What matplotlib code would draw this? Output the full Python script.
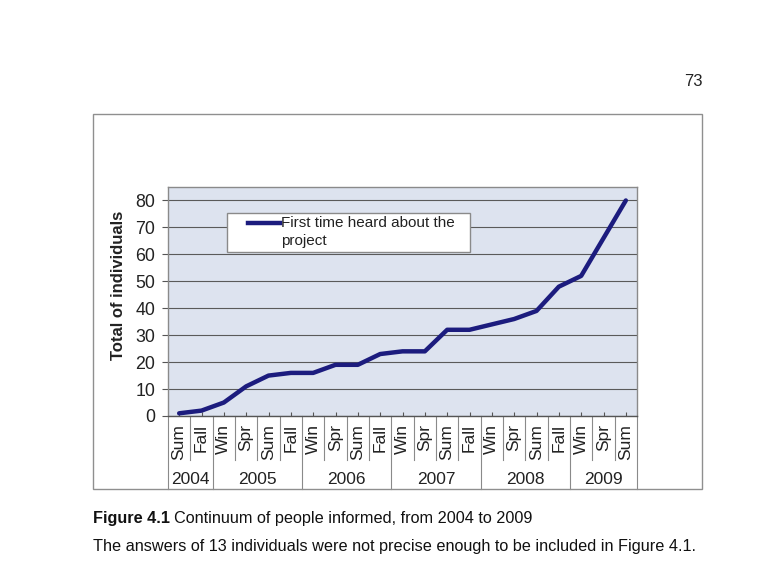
import numpy as np
import matplotlib
matplotlib.use("Agg")
import matplotlib.pyplot as plt
from matplotlib.patches import Rectangle

plt.rcParams['font.family'] = ['Liberation Sans', 'DejaVu Sans']

# data
seasons = ['Sum', 'Fall',
           'Win', 'Spr', 'Sum', 'Fall',
           'Win', 'Spr', 'Sum', 'Fall',
           'Win', 'Spr', 'Sum', 'Fall',
           'Win', 'Spr', 'Sum', 'Fall',
           'Win', 'Spr', 'Sum']
years = ['2004', '2005', '2006', '2007', '2008', '2009']
per_year = [2, 4, 4, 4, 4, 3]
heard = [1, 2, 5, 11, 15, 16, 16, 19, 19, 23, 24, 24, 32, 32, 34, 36, 39, 48, 52, 66, 80]
series_name = "First time heard about the\nproject"

W, H = 771, 574
fig = plt.figure(figsize=(W / 100, H / 100), dpi=100)
fig.patch.set_facecolor('white')

def fx(px):
    return px / W

def fy(py):
    return 1 - py / H

# outer chart frame
fig.add_artist(Rectangle((fx(93), fy(489)), fx(702) - fx(93), fy(114) - fy(489),
                         transform=fig.transFigure, fill=False, edgecolor='#8f8f8f', lw=1))

ax = fig.add_axes([fx(168), fy(416), fx(637) - fx(168), fy(187) - fy(416)])
ax.set_facecolor('#dde3ef')

x = np.arange(len(heard)) + 0.5
ax.plot(x, heard, color='#1c1c7e', lw=3.2, solid_joinstyle='round', solid_capstyle='round', zorder=3)

ax.set_xlim(0, len(heard))
ax.set_ylim(0, 85)
ax.set_yticks(range(0, 90, 10))
ax.yaxis.grid(True, color='#5a5a5a', lw=0.8)
ax.set_axisbelow(True)
ax.tick_params(axis='y', direction='out', length=4, pad=5, labelsize=12.8, color='#555', labelcolor='#222')
ax.set_xticks(x)
ax.tick_params(axis='x', direction='in', length=3, labelbottom=False, color='#555')
for s in ax.spines.values():
    s.set_color('#8a8a8a')
    s.set_linewidth(1)
ax.spines['bottom'].set_color('#555')

fig.text(fx(118), fy(285), 'Total of individuals', rotation=90, ha='center', va='center',
         fontsize=12, fontweight='bold', color='#222')

# two-level category labels
tr = ax.get_xaxis_transform()
row_top = -8 / 229
row_bot = -44 / 229
year_y = -64 / 229
frame_bot = -73 / 229
for xi, s in zip(x, seasons):
    ax.text(xi, row_top, s, transform=tr, rotation=90, ha='center', va='top', fontsize=12.5, color='#222')
bounds = np.cumsum([0] + per_year)
for b in range(1, len(heard)):
    if b not in bounds:
        ax.plot([b, b], [-1 / 229, row_bot], transform=tr, color='#8a8a8a', lw=0.8, clip_on=False)
for b in bounds:
    ax.plot([b, b], [0, frame_bot], transform=tr, color='#8a8a8a', lw=0.8, clip_on=False)
for i, yr in enumerate(years):
    ax.text((bounds[i] + bounds[i + 1]) / 2, year_y, yr, transform=tr, ha='center', va='center',
            fontsize=12.5, color='#222')

# legend box drawn like the original (key beside first line)
lx0, ly0 = (227 - 168) / 469, (416 - 252) / 229
lw_, lh_ = (470 - 227) / 469, (252 - 213) / 229
ax.add_patch(Rectangle((lx0, ly0), lw_, lh_, transform=ax.transAxes, facecolor='white',
                       edgecolor='#8a8a8a', lw=1, zorder=4))
ky = (416 - 223) / 229
ax.plot([(248 - 168) / 469, (280 - 168) / 469], [ky, ky], transform=ax.transAxes,
        color='#1c1c7e', lw=3.2, zorder=5)
ax.text((281 - 168) / 469, (416 - 232) / 229, series_name, transform=ax.transAxes,
        ha='left', va='center', fontsize=11, color='#222', zorder=5, linespacing=1.3)

# page number and caption
fig.text(fx(693), fy(82), '73', ha='center', va='center', fontsize=12, color='#222')
cap1 = fig.text(fx(93), fy(518), 'Figure 4.1', ha='left', va='center', fontsize=11.7,
                fontweight='bold', color='#111')
fig.canvas.draw()
bb = cap1.get_window_extent()
fig.text(bb.x1 / W + fx(4), fy(518), 'Continuum of people informed, from 2004 to 2009',
         ha='left', va='center', fontsize=11.7, color='#111')
fig.text(fx(93), fy(547), 'The answers of 13 individuals were not precise enough to be included in Figure 4.1.',
         ha='left', va='center', fontsize=11.7, color='#111')

fig.savefig('out.png', dpi=100)
